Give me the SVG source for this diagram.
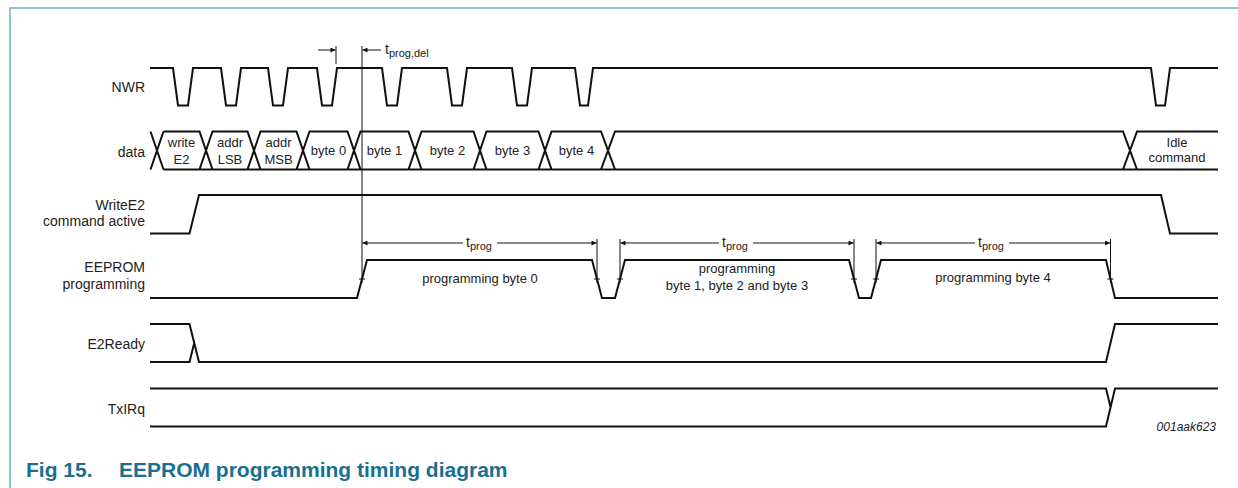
<svg xmlns="http://www.w3.org/2000/svg" width="1238" height="488" viewBox="0 0 1238 488">
<style>
.sig{fill:none;stroke:#111;stroke-width:2;stroke-linejoin:miter}
.thin{fill:none;stroke:#111;stroke-width:1}
.lbl{font-family:"Liberation Sans",Arial,sans-serif;font-size:14px;fill:#222;text-anchor:end}
.txt{font-family:"Liberation Sans",Arial,sans-serif;font-size:13px;fill:#222;text-anchor:middle}
.tt{font-family:"Liberation Sans",Arial,sans-serif;font-size:14px;fill:#222}
.sub{font-size:11px}
.cap{font-family:"Liberation Sans",Arial,sans-serif;font-size:21px;font-weight:bold;fill:#1a6f8f}
.ref{font-family:"Liberation Sans",Arial,sans-serif;font-size:12px;font-style:italic;fill:#222;text-anchor:end}
</style>
<defs>
<marker id="ah" viewBox="0 0 10 10" refX="10" refY="5" markerWidth="8" markerHeight="5" markerUnits="userSpaceOnUse" orient="auto-start-reverse">
<path d="M0,0 L10,5 L0,10 z" fill="#111"/>
</marker>
</defs>
<rect width="1238" height="488" fill="#fff"/>
<g id="frame">
<path d="M10,488 V8 H1238" fill="none" stroke="#6bb2c4" stroke-width="1.5"/>
</g>

<g id="labels">
<text class="lbl" x="145" y="92">NWR</text>
<text class="lbl" x="145" y="157">data</text>
<text class="lbl" x="145" y="210">WriteE2</text>
<text class="lbl" x="145" y="226">command active</text>
<text class="lbl" x="145" y="272">EEPROM</text>
<text class="lbl" x="145" y="289">programming</text>
<text class="lbl" x="145" y="349">E2Ready</text>
<text class="lbl" x="145" y="414">TxIRq</text>
</g>

<g id="nwr">
<path class="sig" d="M150,68 H173 L178,105.5 H188 L193,68 H221 L226,105.5 H236 L241,68 H268 L273,105.5 H283 L288,68 H317 L322,105.5 H332 L337,68 H382 L387,105.5 H397 L402,68 H447 L452,105.5 H462 L467,68 H512 L517,105.5 H527 L532,68 H575 L580,105.5 H588 L593,68 H1151 L1156,105.5 H1165 L1170,68 H1218"/>
</g>

<g id="data">
<path class="sig" d="M150.5,131.5 L163.5,169.5 M150.5,169.5 L163.5,131.5"/>
<path class="sig" d="M163.5,131.5 H199.5 L212.5,169.5 H163.5 M199.5,169.5 L212.5,131.5 H247.5 L260.5,169.5 H212.5 M247.5,169.5 L260.5,131.5 H296.5 L309.5,169.5 H260.5 M296.5,169.5 L309.5,131.5 H347.5 L360.5,169.5 H309.5 M347.5,169.5 L360.5,131.5 H408.5 L421.5,169.5 H360.5 M408.5,169.5 L421.5,131.5 H473.5 L486.5,169.5 H421.5 M473.5,169.5 L486.5,131.5 H538.5 L551.5,169.5 H486.5 M538.5,169.5 L551.5,131.5 H601 L615,169.5 H551.5 M601,169.5 L615,131.5 H1123 L1137,169.5 H615 M1123,169.5 L1137,131.5 H1218 M1137,169.5 H1218"/>
<text class="txt" x="181.5" y="147">write</text>
<text class="txt" x="181.5" y="164">E2</text>
<text class="txt" x="230" y="147">addr</text>
<text class="txt" x="230" y="164">LSB</text>
<text class="txt" x="278.5" y="147">addr</text>
<text class="txt" x="278.5" y="164">MSB</text>
<text class="txt" x="328.5" y="155">byte 0</text>
<text class="txt" x="384.5" y="155">byte 1</text>
<text class="txt" x="447.5" y="155">byte 2</text>
<text class="txt" x="512.5" y="155">byte 3</text>
<text class="txt" x="576.5" y="155">byte 4</text>
<text class="txt" x="1177" y="147">Idle</text>
<text class="txt" x="1177" y="162">command</text>
</g>

<g id="writee2">
<path class="sig" d="M150,233.5 H189.5 L199,195 H1161 L1170,233.5 H1218"/>
</g>

<g id="eeprom">
<path class="sig" d="M150,298 H357 L367,260 H592 L602,298 H615 L625,260 H849 L859,298 H871 L881,260 H1106 L1115,298 H1218"/>
<text class="txt" x="480" y="283">programming byte 0</text>
<text class="txt" x="737" y="273">programming</text>
<text class="txt" x="737" y="290">byte 1, byte 2 and byte 3</text>
<text class="txt" x="993" y="282">programming byte 4</text>
</g>

<g id="e2ready">
<path class="sig" d="M150,324 H189.5 L199,362 H1106 L1115,324 H1218 M150,362 H189.5 L194.2,343"/>
</g>

<g id="txirq">
<path class="sig" d="M150,388.5 H1106 L1110.5,407 M150,426.5 H1106 L1115,388.5 H1218"/>
<text class="ref" x="1216" y="431">001aak623</text>
</g>

<g id="connectors">
<line class="thin" x1="336" y1="46" x2="336" y2="64"/>
<line class="thin" x1="318" y1="50" x2="335.5" y2="50" marker-end="url(#ah)"/>
<line class="thin" x1="362" y1="46" x2="362" y2="283"/>
<line class="thin" x1="381" y1="50" x2="362.5" y2="50" marker-end="url(#ah)"/>
<text class="tt" x="385" y="54">t<tspan class="sub" dy="3">prog,del</tspan></text>

<line class="thin" x1="597" y1="239" x2="597" y2="283"/>
<line class="thin" x1="620" y1="239" x2="620" y2="283"/>
<line class="thin" x1="854" y1="239" x2="854" y2="283"/>
<line class="thin" x1="876" y1="239" x2="876" y2="283"/>
<line class="thin" x1="1110.5" y1="239" x2="1110.5" y2="283"/>
<path class="thin" d="M359,279 H365 M594,279 H600 M617,279 H623 M851,279 H857 M873,279 H879 M1107.5,279 H1113.5"/>

<line class="thin" x1="463" y1="243" x2="362.5" y2="243" marker-end="url(#ah)"/>
<line class="thin" x1="497" y1="243" x2="596.5" y2="243" marker-end="url(#ah)"/>
<text class="tt" x="466" y="247">t<tspan class="sub" dy="3">prog</tspan></text>

<line class="thin" x1="719" y1="243" x2="620.5" y2="243" marker-end="url(#ah)"/>
<line class="thin" x1="753" y1="243" x2="853.5" y2="243" marker-end="url(#ah)"/>
<text class="tt" x="722" y="247">t<tspan class="sub" dy="3">prog</tspan></text>

<line class="thin" x1="975" y1="243" x2="876.5" y2="243" marker-end="url(#ah)"/>
<line class="thin" x1="1009" y1="243" x2="1110" y2="243" marker-end="url(#ah)"/>
<text class="tt" x="978" y="247">t<tspan class="sub" dy="3">prog</tspan></text>
</g>

<g id="caption">
<text class="cap" x="26" y="477">Fig 15.</text>
<text class="cap" x="119" y="477">EEPROM programming timing diagram</text>
</g>
</svg>
